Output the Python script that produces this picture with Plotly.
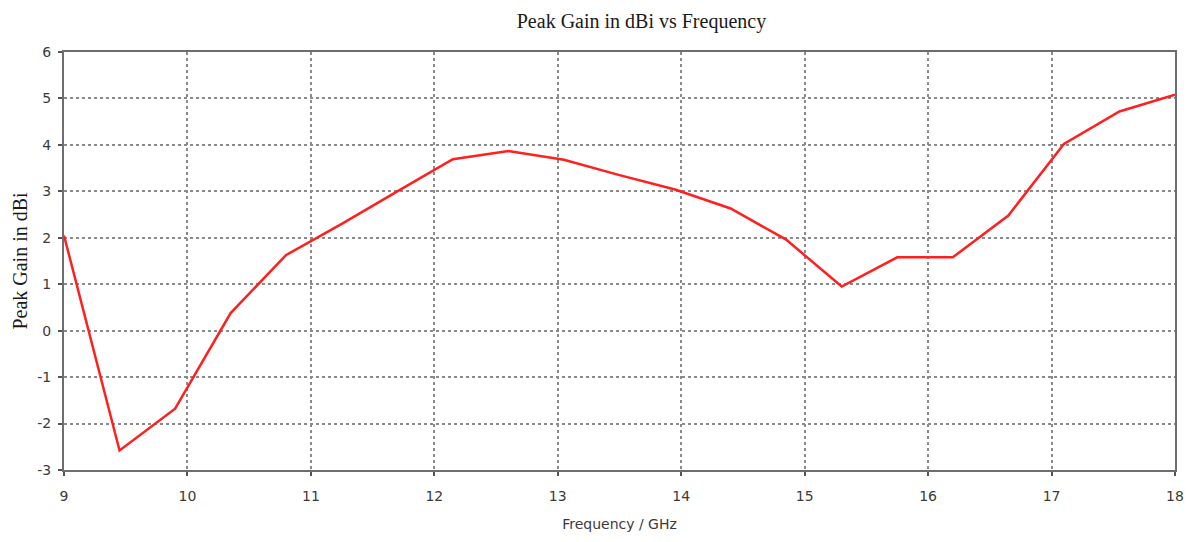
import plotly.graph_objects as go

freq_ghz = [9.0, 9.45, 9.9, 10.35, 10.8, 11.25, 11.7, 12.15, 12.6, 13.05, 13.5,
            13.95, 14.4, 14.85, 15.3, 15.75, 16.2, 16.65, 17.1, 17.55, 18.0]
peak_gain_dbi = [2.05, -2.58, -1.68, 0.38, 1.63, 2.3, 3.0, 3.69, 3.87, 3.68, 3.35,
                 3.04, 2.63, 1.96, 0.95, 1.58, 1.58, 2.48, 4.02, 4.72, 5.08]
x_ticks = [9, 10, 11, 12, 13, 14, 15, 16, 17, 18]
y_ticks = [-3, -2, -1, 0, 1, 2, 3, 4, 5, 6]
y_tick_labels = ["-3", "-2", "-1", "0", "1", "2", "3", "4", "5", "6"]

fig = go.Figure()
fig.add_trace(go.Scatter(x=freq_ghz, y=peak_gain_dbi, mode="lines",
                         line=dict(color="#ff1f1f", width=2.5), showlegend=False))

axis_common = dict(showline=True, linecolor="#6e6e6e", linewidth=2, mirror=True,
                   showgrid=True, gridcolor="#8a8a8a", griddash="dot", gridwidth=1.5,
                   ticks="outside", ticklen=4, tickcolor="#555555", tickwidth=1.5,
                   zeroline=False,
                   tickfont=dict(family="DejaVu Sans", size=14, color="#3a3a3a"))

fig.update_layout(
    width=1199, height=542,
    paper_bgcolor="white", plot_bgcolor="white",
    margin=dict(l=64, r=24, t=52, b=72),
    title=dict(text="Peak Gain in dBi vs Frequency", x=0.535, xanchor="center",
               y=0.962, yanchor="middle",
               font=dict(family="Liberation Serif", size=20, color="#1a1a1a")),
    xaxis=dict(range=[9, 18], tickvals=x_ticks, ticklabelstandoff=8,
               title=dict(text="Frequency / GHz", standoff=16,
                          font=dict(family="DejaVu Sans", size=14, color="#3a3a3a")),
               **axis_common),
    yaxis=dict(range=[-3, 6], tickvals=y_ticks, ticktext=y_tick_labels,
               ticklabelstandoff=4,
               title=dict(text="Peak Gain in dBi", standoff=4,
                          font=dict(family="Liberation Serif", size=20, color="#1a1a1a")),
               **axis_common),
)

fig.write_html("out.html")
